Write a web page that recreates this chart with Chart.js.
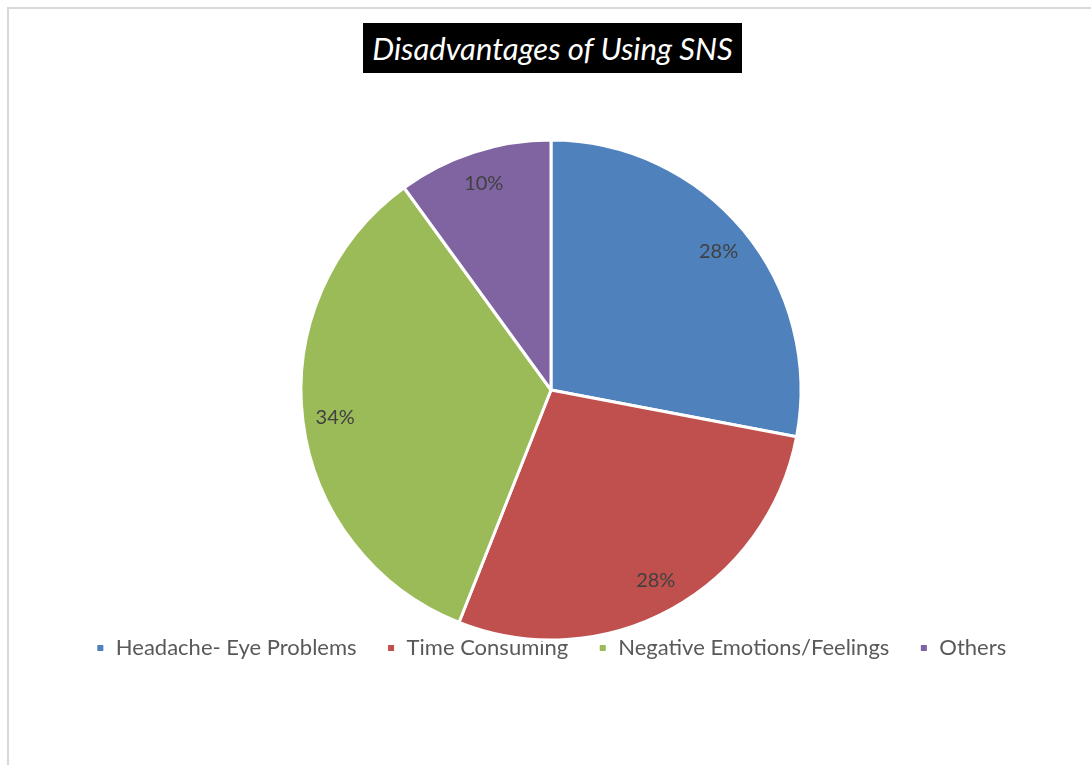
<!DOCTYPE html>
<html>
<head>
<meta charset="utf-8">
<script src="https://cdn.jsdelivr.net/npm/chart.js@4.4.0/dist/chart.umd.min.js"></script>
<style>
  body { margin: 0; background: #fff; }
  #frame { position: absolute; left: 7px; top: 7px; width: 1100px; height: 780px; border: 2px solid #d9d9d9; box-sizing: border-box; }
  #title { position: absolute; left: 363px; top: 23px; width: 379px; height: 50px; background: #000; color: #fff;
    font-family: Lato, sans-serif; font-style: italic; font-size: 31px; line-height: 50px; text-align: center; }
  #wrap { position: absolute; left: 0; top: 0; width: 1091px; height: 765px; }
</style>
</head>
<body>
<div id="frame"></div>
<div id="wrap"><canvas id="pie"></canvas></div>
<div id="title">Disadvantages of Using SNS</div>
<script>
let labels = ["Headache- Eye Problems", "Time Consuming", "Negative Emotions/Feelings", "Others"]
let values = [28, 28, 34, 10]
let colors = ["#4f81bd", "#c0504d", "#9bbb59", "#8064a2"]

// draws the % text inside each slice
const sliceLabels = {
  id: "sliceLabels",
  afterDatasetsDraw(chart) {
    let ctx = chart.ctx
    let meta = chart.getDatasetMeta(0)
    ctx.save()
    ctx.font = "20px Lato, sans-serif"
    ctx.fillStyle = "#404040"
    ctx.textAlign = "center"
    ctx.textBaseline = "middle"
    meta.data.forEach((arc, i) => {
      let p = arc.getProps(["x", "y", "startAngle", "endAngle", "outerRadius"])
      let mid = (p.startAngle + p.endAngle) / 2
      let r = p.outerRadius * 0.87
      ctx.fillText(values[i] + "%", p.x + Math.cos(mid) * r, p.y + Math.sin(mid) * r)
    })
    ctx.restore()
  }
}

new Chart(document.getElementById("pie"), {
  type: "pie",
  data: {
    labels: labels,
    datasets: [{
      data: values,
      backgroundColor: colors,
      borderColor: "#ffffff",
      borderWidth: 3
    }]
  },
  options: {
    responsive: true,
    maintainAspectRatio: false,
    animation: false,
    radius: 250,
    layout: { padding: { top: 173, bottom: 96, left: 11, right: 0 } },
    plugins: {
      tooltip: { enabled: false },
      legend: {
        position: "bottom",
        labels: {
          font: { family: "Lato, sans-serif", size: 22 },
          color: "#595959",
          boxWidth: 9,
          boxHeight: 9,
          padding: 30
        }
      }
    }
  },
  plugins: [sliceLabels]
});
</script>
</body>
</html>
